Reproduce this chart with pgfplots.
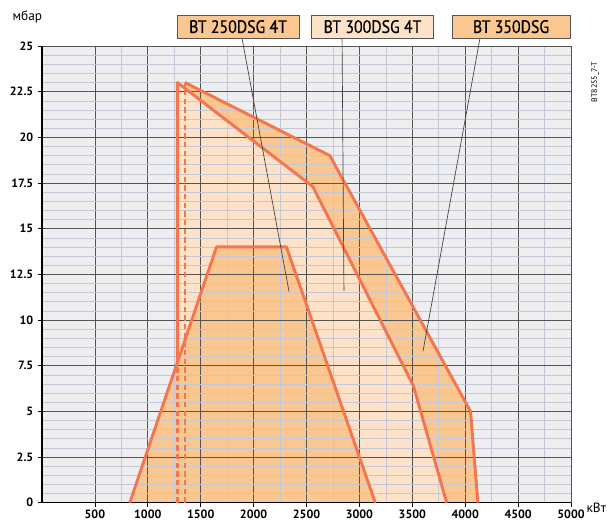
\documentclass[border=0pt]{standalone}
\usepackage{fontspec}
\setmainfont{PT Sans}
\newfontfamily\boxfont[FakeStretch=0.88, FakeBold=0.6]{PT Sans}
\usepackage{pgfplots}
\pgfplotsset{compat=1.18}
\definecolor{bgcol}{RGB}{238,238,241}
\definecolor{darkfill}{RGB}{251,199,145}
\definecolor{lightfill}{RGB}{253,226,199}
\definecolor{lc}{RGB}{244,117,78}
\definecolor{majgrid}{RGB}{85,85,85}
\definecolor{mingrid}{RGB}{196,199,214}
\begin{document}
\begin{tikzpicture}
\begin{axis}[
  set layers,
  width=396.75pt, height=342.5pt, scale only axis,
  xmin=0, xmax=5000, ymin=0, ymax=25,
  axis lines=left,
  axis line style={-, black, line width=0.8pt},
  xtick={500,1000,...,5000},
  ytick={0,2.5,...,25},
  minor x tick num=1, minor y tick num=4,
  grid=both,
  major grid style={majgrid, line width=0.6pt},
  minor grid style={mingrid, line width=0.4pt},
  tick align=outside, major tick length=3pt, minor tick length=0pt,
  tick style={black, line width=0.6pt},
  /pgf/number format/assume math mode=true,
  x tick label style={font=\bfseries\fontsize{9}{10}\selectfont, /pgf/number format/1000 sep={}, yshift=1pt},
  y tick label style={font=\bfseries\fontsize{9}{10}\selectfont, /pgf/number format/.cd, fixed, precision=1},
  axis background/.style={fill=bgcol},
  clip=false,
]
% filled areas (behind grid)
\addplot[fill=darkfill, draw=none, on layer=axis background]
  coordinates {(1350,0) (1350,23) (2720,19) (4050,5) (4120,0)} \closedcycle;
\addplot[fill=lightfill, draw=none, on layer=axis background]
  coordinates {(1280,0) (1280,23) (2560,17.3) (3510,6.4) (3825,0)} \closedcycle;
\addplot[fill=darkfill, draw=none, on layer=axis background]
  coordinates {(830,0) (1650,14) (2310,14) (3150,0)} \closedcycle;

% outlines
\addplot[lc, line width=1.8pt, dash pattern=on 4pt off 2.5pt] coordinates {(1350,0) (1350,23)};
\addplot[lc, line width=1.8pt, dash pattern=on 4pt off 2.5pt] coordinates {(1280,0) (1280,7.7)};
\addplot[lc, line width=2.2pt, line join=round] coordinates {(1350,23) (2720,19) (4050,5) (4120,0)};
\addplot[lc, line width=2.2pt, line join=round] coordinates {(1280,7.7) (1280,23) (2560,17.3) (3510,6.4) (3825,0)};
\addplot[lc, line width=2.2pt, line join=round] coordinates {(830,0) (1650,14) (2310,14) (3150,0)};

% leader lines
\draw[black!75, line width=0.5pt] (axis cs:1890,25.44) -- (axis cs:2335,11.55);
\draw[black!75, line width=0.5pt] (axis cs:2836,25.44) -- (axis cs:2854,11.6);
\draw[black!75, line width=0.5pt] (axis cs:4140,25.44) -- (axis cs:3601,8.28);

% series labels
\tikzset{lbl/.style={draw=majgrid, line width=0.6pt, minimum height=17pt, inner sep=0pt,
  font=\boxfont\fontsize{13.5}{14}\selectfont}}
\node[lbl, fill=darkfill, minimum width=91.5pt] at (axis cs:1853,26.06) {BT 250DSG 4T};
\node[lbl, fill=lightfill, minimum width=91pt] at (axis cs:3124,26.06) {BT 300DSG 4T};
\node[lbl, fill=darkfill, minimum width=88.5pt] at (axis cs:4433,26.06) {BT 350DSG};

\node[font=\fontsize{10}{11}\selectfont] at ([xshift=-11pt, yshift=21.5pt]rel axis cs:0,1) {мбар};
\node[font=\fontsize{10}{11}\selectfont] at ([xshift=19pt, yshift=-3.5pt]rel axis cs:1,0) {кВт};
\node[font=\fontsize{6}{7}\selectfont, rotate=90] at ([xshift=18pt, yshift=-27pt]rel axis cs:1,1) {BT8255\_7-T};

\coordinate (ll) at (rel axis cs:0,0);
\coordinate (ur) at (rel axis cs:1,1);
\end{axis}
\pgfresetboundingbox
\path ([shift={(-31.5pt,-13pt)}]ll) rectangle ([shift={(27pt,34.5pt)}]ur);
\end{tikzpicture}
\end{document}
